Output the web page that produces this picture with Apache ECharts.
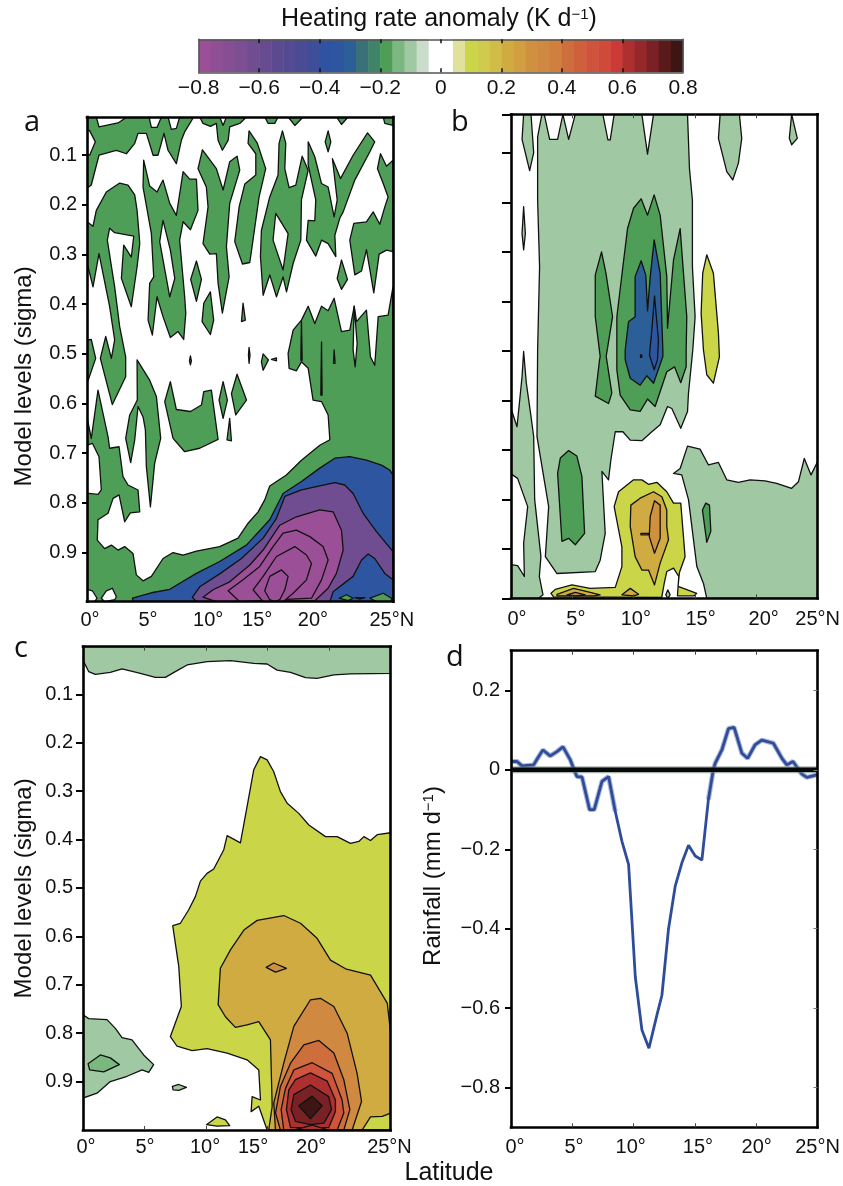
<!DOCTYPE html>
<html><head><meta charset="utf-8">
<style>html,body{margin:0;padding:0;background:#fff}#c{width:843px;height:1186px}</style>
<script src="https://cdn.jsdelivr.net/npm/echarts@6/dist/echarts.min.js"></script>
</head><body><div id="c"></div>
<script>
// Colour scale: one colour per 0.04 K/d band from -0.8 to 0.8
const colorbarColors = ['#9b4f97','#8f4f95','#864e93','#7c4e92','#704d91','#664b91','#5c4a91','#534a93','#4a4b94','#3f4e98',
 '#2f53a0','#2e56a0','#2c5f98','#3a7077','#3f8369','#4e9e57','#7ab87f','#a0c8a2','#c9ddca','#ffffff',
 '#ffffff','#e0e29c','#cbd548','#cfcb4c','#d0bd48','#d0ab41','#d19f40','#cf9140','#d08940','#cf7f3e',
 '#cd6e3c','#cf603b','#cf543b','#cf4a39','#cc3a38','#ae2f30','#94282a','#7a2126','#5a1a1c','#3d1614'];
const colorbarTicks = [-0.8,-0.6,-0.4,-0.2,0,0.2,0.4,0.6,0.8];
const colorbarLabels = ['\u22120.8','\u22120.6','\u22120.4','\u22120.2','0','0.2','0.4','0.6','0.8'];
const sigmaTicks = [0.1,0.2,0.3,0.4,0.5,0.6,0.7,0.8,0.9];
const sigmaLabels = ['0.1','0.2','0.3','0.4','0.5','0.6','0.7','0.8','0.9'];
const latLabels = ['0\u00b0','5\u00b0','10\u00b0','15\u00b0','20\u00b0','25\u00b0N'];
const latTicks = [5,10,15,20];
// the printed latitude labels sit slightly off their true ticks
const latLabelPosA = [0.25,4.98,9.9,13.9,18.46,24.9];
const latLabelPosB = [0.49,5.29,10.18,15.45,20.6,25];
const latLabelPosC = [0.24,5.04,9.92,13.82,18.54,24.9];
const latLabelPosD = [0.33,5.14,9.76,15.25,20.04,25];
const rainTicks = [0.2,0,-0.2,-0.4,-0.6,-0.8];
const rainLabels = ['0.2','0','\u22120.2','\u22120.4','\u22120.6','\u22120.8'];

// Panel d: rainfall anomaly [latitude, mm/d]
const rainfall = [[0,.021],[.49,.021],[.9,.01],[1.85,.0125],[2.17,.029],[2.6,.05],[3.2,.035],[3.75,.046],[4.24,.058],[4.84,.025],[5.24,-.007],[5.38,-.017],[5.79,-.018],[6.41,-.10],[6.79,-.10],[7.42,-.029],[7.96,-.017],[8.5,-.104],[9.05,-.18],[9.59,-.238],[10.14,-.5215],[10.68,-.655],[11.25,-.701],[11.9,-.6175],[12.31,-.5675],[12.85,-.40],[13.4,-.292],[13.94,-.234],[14.48,-.19],[15.03,-.217],[15.57,-.227],[16.1,-.075],[16.5,0],[16.66,.017],[17.2,.05],[17.74,.104],[18.2,.107],[18.83,.042],[19.3,.029],[19.9,.0626],[20.46,.075],[21.4,.067],[22.1,.029],[22.5,.0125],[23,.021],[23.7,-.01],[24.13,-.019],[24.95,-.0125]];
const zeroLine = [[0,0],[25,0]];

// Contour rings: [level (K/d), [lat, sigma, lat, sigma, ...]], painted in order
const panelA = [
 [-.18,[0,.023,8.72,.023,7.98,.053,7.71,.07,7.3,.117,6.62,.09,6.29,.056,5.8,.1,5.4,.1,4.85,.056,4.17,.056,3.9,.076,3.22,.097,2.4,.09,.98,.1,.35,.16,.08,.165,0,.165]],
 [0,[0,.05,.2,.05,.68,.073,.22,.1,0,.097]],
 [0,[.76,.023,.98,.043,2.53,.035,3.27,.023]],
 [0,[5.07,.023,5.26,.044,5.72,.044,6.08,.023]],
 [0,[6.62,.023,6.89,.048,7.3,.046,7.57,.023]],
 [-.18,[9.21,.023,9.48,.036,10.08,.042,10.57,.036,10.71,.07,11.06,.09,11.53,.07,11.66,.043,12.48,.036,13.03,.023]],
 [0,[10.84,.023,11.12,.04,11.39,.023]],
 [-.18,[14.52,.023,14.8,.036,15.34,.036,15.61,.023]],
 [-.18,[16.43,.023,16.98,.04,17.66,.023]],
 [-.18,[20.38,.023,20.79,.038,21.33,.023]],
 [-.18,[24.2,.023,24.33,.036,25,.04,25,.023]],
 [-.18,[19.7,.051,19.92,.073,19.7,.093,19.46,.073]],
 [-.18,[0,.234,.49,.243,.76,.211,1.58,.174,2.67,.156,3.35,.16,3.9,.18,4.09,.211,4.25,.258,4.31,.278,4.09,.325,3.62,.405,2.81,.348,3.0,.281,3.62,.305,3.82,.263,2.26,.256,1.85,.247,1.66,.271,2.26,.365,2.67,.445,3.16,.506,3.16,.546,2.07,.602,1.09,.509,1.53,.465,1.99,.509,2.26,.472,1.85,.405,.98,.298,.49,.365,.22,.338,0,.318]],
 [-.18,[0,.472,.35,.471,.71,.509,.08,.554,0,.554]],
 [-.18,[4.63,.11,5.12,.162,5.72,.174,6.21,.15,6.76,.197,7.3,.221,7.85,.133,8.39,.148,8.94,.148,9.07,.211,8.45,.25,7.85,.234,7.57,.271,7.98,.385,8.07,.418,7.9,.471,7.44,.455,6.81,.467,6.21,.425,5.72,.385,5.34,.462,4.99,.432,5.12,.358,5.45,.345,5.26,.258,4.58,.164]],
 [0,[6.21,.231,5.94,.274,6.76,.385,7.17,.348,6.81,.291]],
 [-.18,[9.43,.089,10.57,.127,11.12,.17,11.66,.113,12.26,.102,12.48,.13,11.66,.197,11.39,.284,11.61,.345,11.06,.418,10.71,.358,10.57,.298,10.03,.299,9.48,.278,9.89,.204,9.75,.164,9.07,.127]],
 [-.18,[13.24,.051,13.9,.075,14.6,.127,14.06,.184,13.52,.278,13.3,.316,12.7,.319,12.07,.274,12.43,.204,12.89,.158,13.79,.14,13.79,.097,13.16,.076]],
 [-.18,[15.97,.051,16.24,.076,16.16,.127,16.51,.165,17.06,.16,17.58,.102,18.07,.13,17.52,.19,17.47,.271,16.84,.318,16.3,.375,16.02,.345,15.48,.385,14.93,.341,14.39,.382,14.17,.304,14.25,.251,14.93,.184,15.61,.14,15.69,.076]],
 [0,[15.42,.217,16.43,.258,16.02,.331,15.2,.271]],
 [-.18,[18.07,.073,18.61,.103,19.16,.157,19.7,.164,20.19,.224,20.44,.19,20.05,.107,20.71,.147,21.74,.1,22.92,.055,23.51,.073,23.11,.093,21.88,.15,20.93,.214,20.65,.227,20.25,.261,20.33,.304,19.7,.278,19.16,.271,18.69,.303,17.93,.271,18.07,.231,18.61,.232,18.69,.19,18.07,.12]],
 [-.18,[23.73,.127,23.98,.097,24.47,.122,25,.11,25,.294,24.47,.291,23.87,.299,23.43,.377,22.83,.29,22.43,.333,21.88,.341,21.47,.271,21.8,.237,22.83,.234,23.38,.214,23.92,.239,24.33,.204,24.6,.184,24.2,.157]],
 [-.18,[8.94,.313,9.35,.35,8.94,.394,8.47,.35]],
 [-.18,[10.08,.375,10.35,.432,10.08,.461,9.4,.435,9.54,.398]],
 [-.18,[12.75,.398,12.94,.432,12.62,.435]],
 [-.18,[20.79,.311,21.28,.35,20.79,.37,20.44,.348]],
 [-.18,[8.45,.504,8.53,.514,8.45,.522,8.37,.514]],
 [-.18,[13.24,.487,13.32,.502,13.24,.519,13.19,.502]],
 [-.18,[14.39,.5,14.82,.512,14.39,.533,14.25,.516]],
 [-.18,[15.07,.511,15.48,.508,15.48,.514]],
 [-.18,[4.09,.512,5.12,.553,5.67,.586,6.02,.67,5.53,.72,5.18,.808,4.85,.727,4.77,.653,4.58,.627,4.17,.606,3.9,.673,3.57,.719,3.16,.67,3.49,.623,4.11,.593]],
 [-.18,[6.81,.556,7.3,.612,8.45,.616,9.35,.603,9.54,.576,10.16,.573,10.71,.672,9.21,.69,7.98,.697,7.03,.67,6.35,.596]],
 [-.18,[11.12,.556,11.47,.593,11.12,.63,10.79,.593]],
 [-.18,[12.26,.541,13.03,.593,12.15,.623,11.8,.58]],
 [-.18,[11.66,.63,11.8,.675,11.44,.673]],
 [-.18,[0,.627,.35,.67,.9,.573,1.72,.667,1.85,.69,2.62,.687,2.94,.747,3.35,.764,4.17,.774,4.31,.818,3.54,.82,3.08,.838,2.62,.784,2.13,.791,1.72,.821,.9,.834,.84,.875,1.44,.892,1.99,.885,2.53,.895,3.08,.888,3.76,.902,4.03,.945,4.58,.957,5.26,.948,6.21,.912,7.03,.9,7.85,.905,8.94,.897,10.84,.888,12.34,.871,13.16,.841,13.98,.818,14.52,.794,14.93,.766,16.29,.744,17.52,.714,19.02,.684,19.84,.673,19.7,.623,19.16,.596,18.47,.593,18.07,.529,17.52,.516,17.11,.534,16.51,.529,16.43,.499,16.84,.452,17.52,.432,18.07,.404,18.61,.439,19.16,.404,19.7,.413,20.19,.388,20.79,.455,21.47,.452,21.83,.404,22.02,.435,22.83,.412,23.16,.506,23.51,.523,23.79,.425,24.6,.422,25,.365,25,.999,0,.999]],
 [0,[0,.684,.44,.68,.98,.707,1.17,.774,.9,.783,.16,.781,0,.781]],
 [0,[0,.974,.44,.977,.82,.992,.63,.999,0,.999]],
 [0,[1.17,.992,1.58,.977,2.07,.972,2.4,.989,2.26,.995,1.44,.999]],
 [0,[21.83,.404,21.74,.492,21.91,.526,22.07,.479]],
 [0,[17.52,.435,17.58,.513,17.47,.513]],
 [0,[19.16,.476,19.21,.583,19.1,.583]],
 [0,[20.19,.492,20.27,.519,20.14,.519]],
 [-.34,[3.71,.992,5.26,.981,6.76,.974,8.94,.942,10.84,.918,13.02,.885,14.93,.834,16.02,.781,17.52,.757,19.02,.73,20.25,.71,21.47,.707,22.83,.714,24.06,.724,24.74,.734,25,.744,25,.999,3.76,.999]],
 [-.62,[8.61,.99,9.21,.969,10.84,.943,12.62,.912,14.39,.871,15.48,.831,16.16,.787,17.52,.774,19.02,.766,20.25,.759,21.06,.764,21.74,.781,22.56,.821,23.65,.858,25,.898,25,.955,24.33,.942,23.51,.912,22.97,.903,22.43,.915,21.74,.948,20.11,.979,19.84,.999,8.94,.999]],
 [-.78,[9.48,.99,10.3,.975,11.66,.959,13.3,.925,14.39,.895,15.75,.845,17.11,.828,19.02,.814,20.11,.818,20.79,.855,20.93,.895,20.38,.942,19.7,.972,18.61,.997,10.57,.999]],
 [-.78,[11.53,.977,12.75,.955,14.11,.928,15.2,.888,16.02,.861,17.11,.855,18.2,.868,19.29,.888,19.7,.915,19.16,.955,18.34,.992,12.48,.999]],
 [-.78,[13.57,.975,14.39,.948,15.48,.908,16.98,.888,17.93,.905,18.34,.922,17.93,.955,16.84,.982,16.02,.999,14.39,.999]],
 [-.78,[14.52,.977,14.93,.948,15.89,.935,16.43,.948,16.16,.975,15.75,.995,15.34,.999,14.93,.995]],
 [-.18,[20.6,.992,21.2,.985,21.74,.992,21.33,.997]],
 [-.18,[21.88,.991,22.7,.991,22.29,.994]],
 [-.18,[23.11,.992,24.2,.982,24.88,.992,24.88,.999,23.65,.999]]
];
const panelB = [
 [-.1,[2.17,.068,2.52,.0225,2.71,.0225,3.15,.073,3.8,.073,4.23,.0225,4.7,.073,5.24,.0225,7.49,.0225,7.9,.074,8.09,.074,8.41,.0225,10.67,.0225,11.13,.103,11.62,.0225,14.39,.0225,14.55,.132,14.79,.196,14.79,.33,15.01,.431,14.82,.498,14.47,.585,14.39,.622,13.84,.656,13.11,.616,12.76,.612,12.16,.649,11.48,.663,10.67,.681,9.72,.68,9.12,.663,8.5,.663,8.14,.72,7.95,.76,7.41,.743,7.68,.868,7.27,.922,6.87,.945,3.75,.949,2.8,.915,3.07,.814,2.12,.673,2.17,.498,2.33,.33,2.17,.196]],
 [-.1,[1.03,.0225,1.63,.0225,1.85,.1,1.52,.136,.9,.073]],
 [-.1,[1.03,.501,1.25,.565,1.63,.632,1.85,.673,1.93,.80,2.44,.915,2.31,.955,2.61,.992,2.25,.999,0,.999,0,.616,.49,.653,.9,.552]],
 [0,[0,.748,.54,.757,1.36,.814,1.03,.888,1.09,.955,.54,.933,0,.931]],
 [-.1,[1.03,.209,1.17,.263,1.03,.296,.9,.263]],
 [-.1,[17.05,.0225,18.62,.0225,18.81,.071,18.54,.121,18.08,.155,17.59,.138,16.91,.071]],
 [-.1,[22.88,.0225,23.34,.071,22.88,.084,22.69,.071]],
 [.1,[15.96,.306,16.5,.343,16.91,.464,16.99,.512,16.5,.565,15.96,.548,15.69,.498,15.5,.424,15.63,.343]],
 [-.18,[8.63,.431,9.12,.33,9.5,.253,9.99,.212,10.61,.193,11.13,.226,11.67,.185,12.16,.226,12.38,.276,12.7,.35,12.76,.454,13.25,.316,13.79,.253,14.06,.343,14.33,.431,14.28,.501,14.28,.532,13.84,.564,13.33,.532,12.7,.542,11.75,.612,11.13,.597,10.53,.622,9.72,.619,8.9,.589,8.63,.538]],
 [-.18,[7.38,.30,7.74,.343,8.28,.431,7.76,.511,8.22,.585,7.95,.606,6.87,.591,7.22,.518,7.27,.511,6.87,.431,6.87,.347]],
 [-.3,[10.61,.318,10.99,.347,11.13,.419,11.35,.35,11.67,.276,12.16,.343,12.38,.498,12.38,.511,11.62,.565,11.07,.55,10.53,.569,9.72,.555,9.31,.518,9.31,.498,9.58,.441,10.12,.431,10.12,.35]],
 [-.34,[11.7,.389,12.02,.478,11.94,.518,11.67,.538,11.29,.508,11.48,.458]],
 [-.34,[10.56,.508,10.66,.508,10.66,.513,10.56,.513]],
 [-.18,[4.7,.701,5.37,.712,5.78,.753,6.0,.868,5.24,.891,4.7,.878,4.15,.884,3.8,.747,4.02,.716]],
 [-.1,[14.39,.692,15.41,.698,16.1,.73,16.91,.725,17.59,.76,18.54,.765,19.49,.76,20.71,.762,21.66,.767,22.88,.777,23.43,.764,23.91,.717,24.46,.75,25,.723,25,.999,15.96,.999,15.69,.969,15.15,.935,14.47,.80,13.92,.75,13.25,.747,13.79,.737]],
 [-.18,[15.88,.807,16.18,.811,16.29,.864,15.96,.886,15.61,.821]],
 [.1,[8.41,.814,8.77,.784,9.99,.76,10.67,.76,11.21,.769,11.89,.765,12.7,.784,13.25,.807,13.84,.807,14.19,.915,13.73,.947,13.62,.975,15.14,.989,14.93,.994,13.57,.994,13.68,.955,13.25,.938,12.7,.945,12.49,.969,12.29,.997,3.47,.996,3.26,.989,3.61,.981,4.97,.972,6.46,.979,8.5,.977,9.04,.935,9.04,.895]],
 [.22,[9.77,.811,10.53,.797,11.62,.784,12.3,.794,12.7,.821,12.7,.854,12.84,.881,12.16,.928,11.7,.972,11.21,.942,10.67,.942,10.12,.915,9.72,.854]],
 [.3,[11.7,.802,12.16,.811,12.16,.878,11.7,.908,11.27,.874,11.35,.834]],
 [.3,[10.59,.868,11.21,.868,11.21,.871,10.59,.871]],
 [.22,[9.04,.992,9.72,.979,10.4,.991,9.99,.994]],
 [.22,[3.75,.991,5.1,.979,6.46,.987,7.27,.992,6.73,.994,3.75,.994]],
 [.3,[4.56,.992,5.24,.987,6.05,.992,5.24,.994]],
 [-.1,[12.78,.982,12.97,.992,12.78,.999,12.62,.992]]
];
const panelC = [
 [-.1,[0,.0017,25,.0017,25,.0567,21.73,.058,20.38,.06,19.02,.067,18.08,.0656,16.86,.0546,15.77,.05,14.96,.0374,13.88,.036,11.98,.0305,10.08,.0326,8.46,.0394,7.64,.051,6.69,.065,5.88,.065,4.66,.0567,3.17,.0477,2.22,.0546,1.0,.0587,.46,.053,0,.03]],
 [.1,[14.42,.2287,14.96,.2356,15.5,.26,16.04,.301,16.59,.325,17.53,.346,18.35,.37,19.7,.394,20.65,.394,21.73,.408,22.41,.404,22.82,.394,23.36,.402,23.9,.39,25,.386,25,1,15.37,1,14.96,1,14.28,.951,13.66,.962,13.74,.931,14.42,.938,14.28,.876,13.33,.855,11.71,.841,10.08,.832,8.86,.836,7.64,.827,7.1,.807,7.99,.745,7.78,.662,7.29,.578,7.91,.573,8.59,.545,9.13,.518,9.54,.486,10.08,.47,10.62,.461,11.44,.421,11.71,.392,12.79,.407,13.33,.332,13.87,.256]],
 [.22,[11.16,.666,11.98,.628,13.07,.587,14.15,.567,16.31,.557,17.67,.573,19.02,.604,20.11,.649,21.33,.667,23.36,.68,24.72,.738,25,.80,25,.965,24.31,.972,23.36,.973,22.68,1,15.09,1,15.37,.951,15.23,.814,14.28,.776,13.33,.783,12.38,.788,11.57,.766,10.98,.741]],
 [.3,[14.88,.664,15.5,.655,16.53,.666,15.64,.674]],
 [.34,[15.64,1,15.5,.944,16.31,.862,17.13,.786,18.48,.731,19.29,.728,20.38,.745,21.46,.80,22.27,.883,22.63,.941,21.87,1]],
 [.42,[19.16,.815,17.94,.824,16.86,.862,16.04,.91,15.64,.965,16.04,1,21.19,1,21.68,.958,21.19,.896,20.38,.841]],
 [.5,[18.62,.861,17.13,.876,16.45,.914,16.1,.958,16.31,1,20.65,1,21.19,.965,21.05,.938,20.24,.883]],
 [.62,[18.48,.882,17.26,.896,16.72,.917,16.53,.958,16.86,.995,19.97,.995,20.51,.962,20.51,.938,19.84,.899]],
 [.7,[18.48,.907,17.13,.927,16.91,.958,17.26,.982,18.48,.989,19.57,.986,20.19,.958,19.97,.931]],
 [.78,[18.62,.93,17.53,.95,18.48,.977,19.43,.95]],
 [.62,[17.13,1,18.62,.99,19.97,1]],
 [-.1,[0,.762,.46,.77,1.95,.772,2.63,.79,3.17,.809,3.98,.814,4.93,.845,5.74,.865,5.34,.881,4.8,.876,3.58,.889,2.22,.90,1.14,.924,0,.934]],
 [-.14,[.41,.863,1.41,.845,2.22,.851,2.95,.865,1.68,.88,.54,.876]],
 [-.1,[7.26,.91,7.78,.906,8.4,.912,7.78,.918,7.32,.917]],
 [.1,[10.03,.989,10.89,.973,11.57,.979,11.92,.991,10.89,.992]]
];

const FONT = 'Liberation Sans';
const bandColor = lv => colorbarColors[Math.min(39, Math.floor((lv + 0.8) / 0.04))];
const lookup = (vals, labs) => v => { const i = vals.findIndex(x => Math.abs(x - v) < 1e-6); return i < 0 ? '' : labs[i]; };
const grid = [], xAxis = [], yAxis = [], series = [];

function addPanel(rect, xr, yr, inverse, o) {
  const g = grid.length;
  grid.push(Object.assign({ containLabel: false }, rect));
  const line = { show: true, onZero: false, lineStyle: { color: '#000', width: 2.6, cap: 'square' } };
  const innerX = { show: !!o.innerX, customValues: latTicks, inside: true, length: 4, lineStyle: { color: '#444', width: 1 } };
  xAxis.push({ type: 'value', gridIndex: g, min: xr[0], max: xr[1], position: 'bottom', z: 6, axisLine: line, splitLine: { show: false }, axisTick: innerX,
    axisLabel: { show: true, customValues: o.xPos, formatter: lookup(o.xPos, latLabels), margin: o.xMargin, fontFamily: FONT, fontSize: 20, color: '#111' } });
  xAxis.push({ type: 'value', gridIndex: g, min: xr[0], max: xr[1], position: 'top', z: 6, axisLine: line, splitLine: { show: false }, axisTick: innerX, axisLabel: { show: false } });
  yAxis.push({ type: 'value', gridIndex: g, min: yr[0], max: yr[1], inverse, position: 'left', z: 6, axisLine: line, splitLine: { show: false },
    axisTick: { show: true, customValues: o.yTicks, length: o.yTickLen, lineStyle: { color: '#000', width: 2 } },
    axisLabel: o.yLabels ? { show: true, customValues: o.yTicks, formatter: lookup(o.yTicks, o.yLabels), margin: o.yMargin, fontFamily: FONT, fontSize: 20, color: '#111', padding: [3, 0, 0, 0] } : { show: false },
    name: o.yName || '', nameLocation: 'middle', nameGap: o.yNameGap, nameTextStyle: o.yName ? { fontFamily: FONT, fontSize: 24, color: '#111', padding: o.yNamePad,
      rich: { t: { fontFamily: FONT, fontSize: 24, color: '#111' }, s: { fontFamily: FONT, fontSize: 15, color: '#111', verticalAlign: 'top' } } } : undefined });
  yAxis.push({ type: 'value', gridIndex: g, min: yr[0], max: yr[1], inverse, position: 'right', z: 6, axisLine: line, splitLine: { show: false },
    axisTick: { show: !!o.innerY, customValues: o.yTicks, inside: true, length: 4, lineStyle: { color: '#777', width: 1 } }, axisLabel: { show: false } });
  return { xAxisIndex: 2 * g, yAxisIndex: 2 * g };
}

function addContours(ax, rings) {
  series.push(Object.assign({ type: 'custom', coordinateSystem: 'cartesian2d', clip: true, silent: true, animation: false, z: 2,
    data: rings.map((r, i) => [i]),
    renderItem: (params, api) => {
      const r = rings[api.value(0)], pts = [];
      for (let i = 0; i < r[1].length; i += 2) pts.push(api.coord([r[1][i], r[1][i + 1]]));
      return { type: 'polygon', shape: { points: pts }, style: { fill: bandColor(r[0]), stroke: '#111', lineWidth: 1.3, lineJoin: 'round' } };
    } }, ax));
}

// colour bar
const cbG = grid.length;
grid.push({ left: 198.6, top: 39.3, width: 484.4, height: 33 });
const cbTick = { show: true, customValues: colorbarTicks.slice(1, -1), inside: true, length: 4, lineStyle: { color: '#111', width: 1.5 } };
const cbLine = { show: true, onZero: false, lineStyle: { color: '#555', width: 1.5 } };
xAxis.push({ type: 'value', gridIndex: cbG, min: -0.8, max: 0.8, position: 'bottom', z: 6, axisLine: cbLine, axisTick: cbTick, splitLine: { show: false },
  axisLabel: { customValues: colorbarTicks, formatter: lookup(colorbarTicks, colorbarLabels), margin: 5, fontFamily: FONT, fontSize: 21, color: '#111' } });
xAxis.push({ type: 'value', gridIndex: cbG, min: -0.8, max: 0.8, position: 'top', z: 6, axisLine: cbLine, axisTick: cbTick, splitLine: { show: false }, axisLabel: { show: false } });
yAxis.push({ type: 'value', gridIndex: cbG, min: 0, max: 1, position: 'left', z: 6, axisLine: cbLine, axisTick: { show: false }, axisLabel: { show: false }, splitLine: { show: false } });
yAxis.push({ type: 'value', gridIndex: cbG, min: 0, max: 1, position: 'right', z: 6, axisLine: cbLine, axisTick: { show: false }, axisLabel: { show: false }, splitLine: { show: false } });
series.push({ type: 'custom', xAxisIndex: 2 * cbG, yAxisIndex: 2 * cbG, silent: true, animation: false, z: 2,
  data: colorbarColors.map((c, i) => [i]),
  renderItem: (params, api) => {
    const i = api.value(0), a = api.coord([-0.8 + 0.04 * i, 1]), b = api.coord([-0.8 + 0.04 * (i + 1), 0]);
    return { type: 'rect', shape: { x: a[0], y: a[1], width: b[0] - a[0] + 0.5, height: b[1] - a[1] }, style: { fill: colorbarColors[i] } };
  } });

const axA = addPanel({ left: 87, top: 117, width: 306, height: 484.7 }, [0, 25], [.023, .999], true,
  { xPos: latLabelPosA, xMargin: 9, yTicks: sigmaTicks, yLabels: sigmaLabels, yTickLen: 5, yMargin: 10, yName: 'Model levels (sigma)', yNameGap: 51, yNamePad: [0, 34, 0, 0] });
addContours(axA, panelA);
const axB = addPanel({ left: 511, top: 114.3, width: 307, height: 484 }, [0, 25], [.0225, .999], true,
  { xPos: latLabelPosB, xMargin: 11.5, innerX: true, yTicks: sigmaTicks.concat([.0225, .999]), yTickLen: 9 });
addContours(axB, panelB);
const axC = addPanel({ left: 83, top: 646.7, width: 307.7, height: 483.3 }, [0, 25], [.0017, 1], true,
  { xPos: latLabelPosC, xMargin: 7, innerX: true, yTicks: sigmaTicks, yLabels: sigmaLabels, yTickLen: 7, yMargin: 10, yName: 'Model levels (sigma)', yNameGap: 47, yNamePad: [0, 0, 0, 0] });
addContours(axC, panelC);
const axD = addPanel({ left: 511, top: 650.7, width: 306.5, height: 476.6 }, [0, 25], [-.9, .3], false,
  { xPos: latLabelPosD, xMargin: 10, innerX: true, innerY: true, yTicks: rainTicks, yLabels: rainLabels, yTickLen: 6, yMargin: 11,
    yName: '{t|Rainfall (mm d}{s|\u22121}{t|)}', yNameGap: 66, yNamePad: [0, 0, 0, 26] });
const lineBase = Object.assign({ type: 'line', showSymbol: false, silent: true, animation: false }, axD);
const fringe = { color: '#2e4c9a', width: 5, opacity: 0.4 };
series.push(Object.assign({}, lineBase, { data: rainfall.slice(0, 18), z: 3, lineStyle: fringe }));
series.push(Object.assign({}, lineBase, { data: rainfall.slice(31), z: 3, lineStyle: fringe }));
series.push(Object.assign({}, lineBase, { data: rainfall, z: 3, lineStyle: { color: '#2e4c9a', width: 2.8 } }));
series.push(Object.assign({}, lineBase, { data: zeroLine, z: 4, lineStyle: { color: '#6f8078', width: 7, opacity: 0.6 } }));
series.push(Object.assign({}, lineBase, { data: zeroLine, z: 4, lineStyle: { color: '#050a08', width: 4.5 } }));

const letter = (t, left, top) => ({ text: t, left, top, padding: 0, textStyle: { fontFamily: 'Open Sans', fontSize: 29, fontWeight: 'normal', color: '#111' } });
const title = [
  { text: '{t|Heating rate anomaly (K d}{s|\u22121}{t|)}', left: 439, top: 7, textAlign: 'center', padding: 0,
    textStyle: { fontWeight: 'normal', rich: { t: { fontFamily: FONT, fontSize: 25, fontWeight: 'normal', color: '#111' }, s: { fontFamily: FONT, fontSize: 15, fontWeight: 'normal', color: '#111', verticalAlign: 'top' } } } },
  letter('a', 24, 108), letter('b', 451, 108), letter('c', 14, 634), letter('d', 446, 643),
  { text: 'Latitude', left: 449, top: 1161, textAlign: 'center', padding: 0, textStyle: { fontFamily: FONT, fontSize: 25, fontWeight: 'normal', color: '#111' } }
];

const chart = echarts.init(document.getElementById('c'), null, { renderer: 'canvas' });
chart.setOption({ backgroundColor: '#fff', animation: false, title, grid, xAxis, yAxis, series });
</script></body></html>
